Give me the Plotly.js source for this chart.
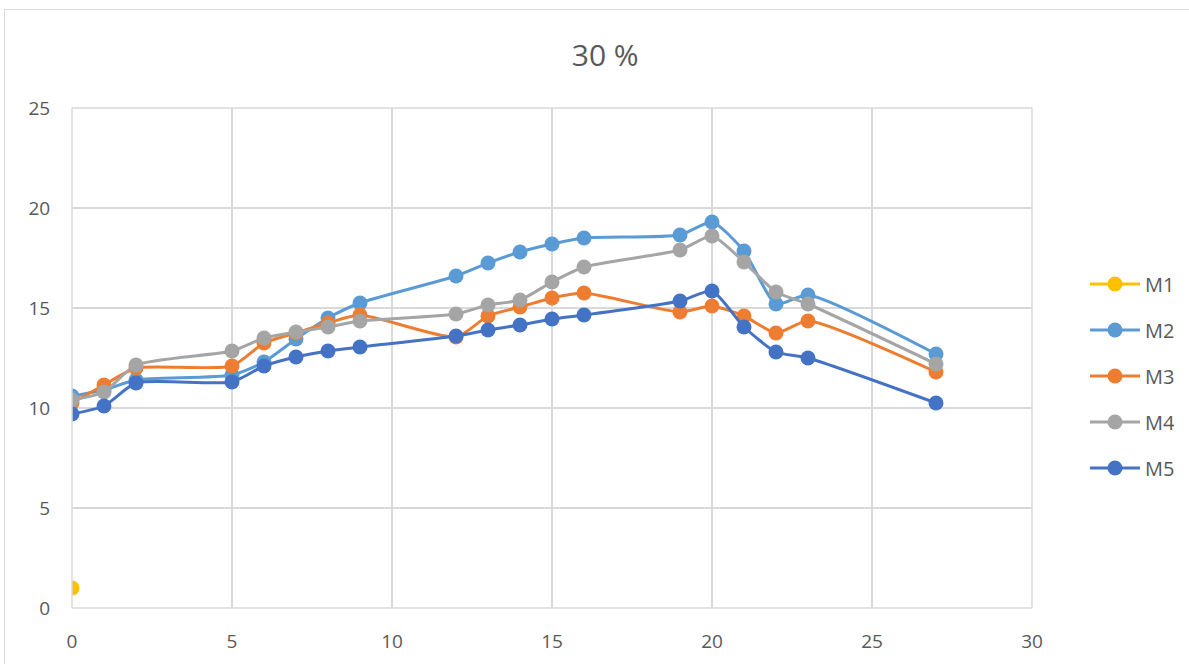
<!DOCTYPE html>
<html>
<head>
<meta charset="utf-8">
<script src="https://cdn.plot.ly/plotly-3.0.1.min.js"></script>
<style>
  html, body { margin: 0; padding: 0; background: #ffffff; }
  #frame { position: absolute; left: 4px; top: 9px; width: 1190px; height: 660px; border: 1px solid #d9d9d9; box-sizing: border-box; }
  #chart { position: absolute; left: 0; top: 0; width: 1189px; height: 664px; }
</style>
</head>
<body>
<div id="frame"></div>
<div id="chart"></div>
<script>
// Measurement days (x) shared by series M2–M5
const days = [0, 1, 2, 5, 6, 7, 8, 9, 12, 13, 14, 15, 16, 19, 20, 21, 22, 23, 27];

const m1Days = [0];
const m1 = [1];

const m2 = [10.6, 10.9, 11.4, 11.65, 12.3, 13.45, 14.5, 15.25, 16.6, 17.25, 17.8, 18.2, 18.5, 18.65, 19.3, 17.85, 15.2, 15.65, 12.7];
const m3 = [10.25, 11.15, 12.0, 12.1, 13.25, 13.75, 14.25, 14.65, 13.55, 14.6, 15.05, 15.5, 15.75, 14.8, 15.1, 14.6, 13.75, 14.35, 11.8];
const m4 = [10.4, 10.8, 12.15, 12.85, 13.5, 13.8, 14.05, 14.35, 14.7, 15.15, 15.4, 16.3, 17.05, 17.9, 18.6, 17.3, 15.8, 15.2, 12.2];
const m5 = [9.7, 10.1, 11.25, 11.3, 12.1, 12.55, 12.85, 13.05, 13.6, 13.9, 14.15, 14.45, 14.65, 15.35, 15.85, 14.05, 12.8, 12.5, 10.25];

const seriesNames = ['M1', 'M2', 'M3', 'M4', 'M5'];
const colors = ['#FFC000', '#5B9BD5', '#ED7D31', '#A5A5A5', '#4472C4'];
const xs = [m1Days, days, days, days, days];
const ys = [m1, m2, m3, m4, m5];

const traces = seriesNames.map((name, i) => ({
  type: 'scatter',
  mode: 'lines+markers',
  name: name,
  legendgroup: name,
  x: xs[i],
  y: ys[i],
  line: { color: colors[i], width: 3, shape: 'spline', smoothing: 0.6 },
  marker: { color: colors[i], size: 15 }
}));

const textFamily = 'Open Sans, Liberation Sans, Arial, sans-serif';
const axisFont = { family: textFamily, size: 19, color: '#595959' };

const layout = {
  width: 1189,
  height: 664,
  paper_bgcolor: 'rgba(0,0,0,0)',
  plot_bgcolor: '#ffffff',
  margin: { l: 72, r: 157, t: 108, b: 56, autoexpand: false },
  title: {
    text: '30 %',
    x: 0.509,
    xanchor: 'center',
    y: 0.916,
    yanchor: 'middle',
    font: { family: textFamily, size: 30, color: '#595959' }
  },
  xaxis: {
    range: [0, 30],
    dtick: 5,
    tick0: 0,
    showgrid: true,
    gridcolor: '#d9d9d9',
    gridwidth: 1.5,
    zeroline: false,
    showline: false,
    ticks: 'outside',
    ticklen: 16,
    tickcolor: 'rgba(0,0,0,0)',
    tickfont: axisFont,
    fixedrange: true
  },
  yaxis: {
    range: [0, 25],
    dtick: 5,
    tick0: 0,
    showgrid: true,
    gridcolor: '#d9d9d9',
    gridwidth: 1.5,
    zeroline: false,
    showline: false,
    ticks: 'outside',
    ticklen: 17,
    tickcolor: 'rgba(0,0,0,0)',
    tickfont: axisFont,
    fixedrange: true
  },
  showlegend: true,
  legend: {
    x: 1.0552,
    xanchor: 'left',
    y: 0.464,
    yanchor: 'middle',
    traceorder: 'grouped',
    tracegroupgap: 17,
    itemwidth: 50,
    font: { family: textFamily, size: 20, color: '#595959' },
    bgcolor: 'rgba(0,0,0,0)'
  },
  shapes: [
    // edges of the plotting region
    { type: 'line', xref: 'paper', yref: 'paper', x0: 0, x1: 1, y0: 0, y1: 0, line: { color: '#d9d9d9', width: 1.5 } },
    { type: 'line', xref: 'paper', yref: 'paper', x0: 0, x1: 1, y0: 1, y1: 1, line: { color: '#d9d9d9', width: 1.5 } },
    { type: 'line', xref: 'paper', yref: 'paper', x0: 0, x1: 0, y0: 0, y1: 1, line: { color: '#d9d9d9', width: 1.5 } },
    { type: 'line', xref: 'paper', yref: 'paper', x0: 1, x1: 1, y0: 0, y1: 1, line: { color: '#d9d9d9', width: 1.5 } }
  ],
  hovermode: false
};

Plotly.newPlot('chart', traces, layout, { displayModeBar: false, staticPlot: true });
</script>
</body>
</html>
